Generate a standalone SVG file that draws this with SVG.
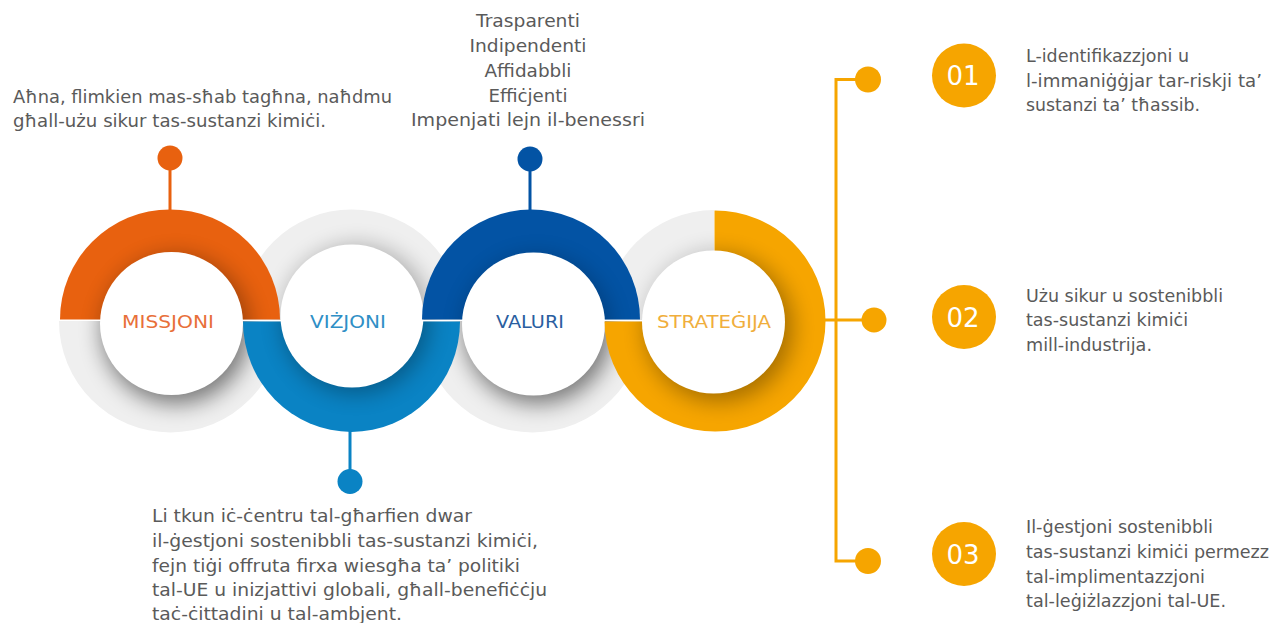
<svg xmlns="http://www.w3.org/2000/svg" width="1274" height="623" viewBox="0 0 1274 623">
<style>
text{font-family:"DejaVu Sans","Liberation Sans",sans-serif}
.t{font-size:17.5px;fill:#5a5a5a}
.c{font-size:17.5px;fill:#5a5a5a;text-anchor:middle}
.l{font-size:18.5px;text-anchor:middle}
.n{font-size:26px;fill:#fff;text-anchor:middle}
.w{fill:#fff}
.g{fill:#efefef}
.s{fill:#000;filter:url(#blur)}
.ln{fill:none;stroke-width:3}
</style>
<defs>
<filter id="blur" x="-40%" y="-40%" width="180%" height="180%"><feGaussianBlur stdDeviation="11"/></filter>
<clipPath id="cg1"><path d="M59,321A111.500,111.500 0 0 0 282,321Z"/></clipPath>
<clipPath id="cg2"><path d="M241,320A110.500,110.500 0 0 1 462,320Z"/></clipPath>
<clipPath id="cg3"><path d="M421,321A111.500,111.500 0 0 0 644,321Z"/></clipPath>
<clipPath id="cg4"><path d="M714,210A110.500,110.500 0 0 0 604,320L714,320Z"/></clipPath>
<clipPath id="c1"><path d="M60,319.500A110,110 0 0 1 280,319.500Z"/></clipPath>
<clipPath id="c2"><path d="M243,321.500A108.500,110.500 0 0 0 460,321.500Z"/></clipPath>
<clipPath id="c3"><path d="M422,319.500A109,110 0 0 1 640,319.500Z"/></clipPath>
<clipPath id="c4"><path d="M714.500,210.500A110.500,110.500 0 1 1 604.500,321.500L714.500,321.500Z"/></clipPath>
</defs>
<rect width="1274" height="623" fill="#fff"/>
<g id="tracks">
<path class="g" d="M59,321A111.500,111.500 0 0 0 282,321Z"/>
<path class="g" d="M241,320A110.500,110.500 0 0 1 462,320Z"/>
<path class="g" d="M421,321A111.500,111.500 0 0 0 644,321Z"/>
<path class="g" d="M714,210A110.500,110.500 0 0 0 604,320L714,320Z"/>
<g clip-path="url(#cg1)"><circle class="s" cx="176" cy="330" r="74" opacity=".5"/></g>
<g clip-path="url(#cg2)"><circle class="s" cx="357" cy="319" r="74" opacity=".28"/></g>
<g clip-path="url(#cg3)"><circle class="s" cx="538" cy="330" r="74" opacity=".5"/></g>
<g clip-path="url(#cg4)"><circle class="s" cx="719" cy="325" r="74" opacity=".22"/></g>
</g>
<g id="connectors" class="conn">
<path class="ln" stroke="#E8610F" d="M170,158V210"/>
<path class="ln" stroke="#0A83C4" d="M350,431V481"/>
<path class="ln" stroke="#0353A4" d="M530,159V210"/>
<path class="ln" stroke="#F6A500" d="M824,320H874M868,79.500H836V561H868"/>
</g>
<g id="node-missjoni">
<path fill="#E8610F" d="M60,319.500A110,110 0 0 1 280,319.500Z"/>
<g clip-path="url(#c1)"><circle class="s" cx="176" cy="329" r="74" opacity=".32"/></g>
<circle class="w" cx="171.500" cy="323.500" r="71.500"/>
<circle cx="170" cy="158" r="12.500" fill="#E8610F"/>
<text class="l" x="168" y="328" fill="#E8703A" textLength="92" lengthAdjust="spacingAndGlyphs">MISSJONI</text>
<text class="t" x="13" y="103" textLength="379" lengthAdjust="spacingAndGlyphs">Aħna, flimkien mas-sħab tagħna, naħdmu</text>
<text class="t" x="13" y="127" textLength="313" lengthAdjust="spacingAndGlyphs">għall-użu sikur tas-sustanzi kimiċi.</text>
</g>
<g id="node-vizjoni">
<path fill="#0A83C4" d="M243,321.500A108.500,110.500 0 0 0 460,321.500Z"/>
<g clip-path="url(#c2)"><circle class="s" cx="356" cy="320" r="74" opacity=".3"/></g>
<circle class="w" cx="352" cy="316" r="71.500"/>
<circle cx="350" cy="481.500" r="12.500" fill="#0A83C4"/>
<text class="l" x="348" y="328" fill="#2F8FC6" textLength="76" lengthAdjust="spacingAndGlyphs">VIŻJONI</text>
<text class="t" x="152" y="522" textLength="320" lengthAdjust="spacingAndGlyphs">Li tkun iċ-ċentru tal-għarfien dwar</text>
<text class="t" x="152" y="547" textLength="386" lengthAdjust="spacingAndGlyphs">il-ġestjoni sostenibbli tas-sustanzi kimiċi,</text>
<text class="t" x="152" y="572" textLength="368" lengthAdjust="spacingAndGlyphs">fejn tiġi offruta firxa wiesgħa ta’ politiki</text>
<text class="t" x="152" y="596" textLength="395" lengthAdjust="spacingAndGlyphs">tal-UE u inizjattivi globali, għall-benefiċċju</text>
<text class="t" x="152" y="620" textLength="250" lengthAdjust="spacingAndGlyphs">taċ-ċittadini u tal-ambjent.</text>
</g>
<g id="node-valuri">
<path fill="#0353A4" d="M422,319.500A109,110 0 0 1 640,319.500Z"/>
<g clip-path="url(#c3)"><circle class="s" cx="537" cy="329" r="74" opacity=".22"/></g>
<circle class="w" cx="533.500" cy="324" r="71.500"/>
<circle cx="530" cy="159" r="12.500" fill="#0353A4"/>
<text class="l" x="530" y="328" fill="#2A5EA0" textLength="68" lengthAdjust="spacingAndGlyphs">VALURI</text>
<text class="c" x="528" y="27" textLength="104" lengthAdjust="spacingAndGlyphs">Trasparenti</text>
<text class="c" x="528" y="52" textLength="117" lengthAdjust="spacingAndGlyphs">Indipendenti</text>
<text class="c" x="528" y="77" textLength="87" lengthAdjust="spacingAndGlyphs">Affidabbli</text>
<text class="c" x="528" y="102" textLength="79" lengthAdjust="spacingAndGlyphs">Effiċjenti</text>
<text class="c" x="528" y="126" textLength="234" lengthAdjust="spacingAndGlyphs">Impenjati lejn il-benessri</text>
</g>
<g id="node-strategija">
<path fill="#F6A500" d="M714.500,210.500A110.500,110.500 0 1 1 604.500,321.500L714.500,321.500Z"/>
<g clip-path="url(#c4)"><circle class="s" cx="719" cy="328" r="74" opacity=".32"/></g>
<circle class="w" cx="713.500" cy="322" r="71.500"/>
<text class="l" x="714" y="328" fill="#F0AE3C" textLength="114" lengthAdjust="spacingAndGlyphs">STRATEĠIJA</text>
</g>
<g id="node-01">
<circle cx="868" cy="79.500" r="13" fill="#F6A500"/>
<circle cx="964" cy="75.500" r="32" fill="#F6A500"/>
<text class="n" x="963" y="85">01</text>
<text class="t" x="1026" y="62" textLength="163" lengthAdjust="spacingAndGlyphs">L-identifikazzjoni u</text>
<text class="t" x="1026" y="87" textLength="236" lengthAdjust="spacingAndGlyphs">l-immaniġġjar tar-riskji ta’</text>
<text class="t" x="1026" y="111" textLength="174" lengthAdjust="spacingAndGlyphs">sustanzi ta’ tħassib.</text>
</g>
<g id="node-02">
<circle cx="874" cy="320" r="12.500" fill="#F6A500"/>
<circle cx="964" cy="317" r="32" fill="#F6A500"/>
<text class="n" x="963" y="327">02</text>
<text class="t" x="1026" y="302" textLength="197" lengthAdjust="spacingAndGlyphs">Użu sikur u sostenibbli</text>
<text class="t" x="1026" y="326" textLength="162" lengthAdjust="spacingAndGlyphs">tas-sustanzi kimiċi</text>
<text class="t" x="1026" y="351" textLength="126" lengthAdjust="spacingAndGlyphs">mill-industrija.</text>
</g>
<g id="node-03">
<circle cx="868" cy="561" r="13" fill="#F6A500"/>
<circle cx="964" cy="554" r="32" fill="#F6A500"/>
<text class="n" x="963" y="564">03</text>
<text class="t" x="1026" y="533" textLength="187" lengthAdjust="spacingAndGlyphs">Il-ġestjoni sostenibbli</text>
<text class="t" x="1026" y="558" textLength="243" lengthAdjust="spacingAndGlyphs">tas-sustanzi kimiċi permezz</text>
<text class="t" x="1026" y="583" textLength="179" lengthAdjust="spacingAndGlyphs">tal-implimentazzjoni</text>
<text class="t" x="1026" y="607" textLength="200" lengthAdjust="spacingAndGlyphs">tal-leġiżlazzjoni tal-UE.</text>
</g>
</svg>
